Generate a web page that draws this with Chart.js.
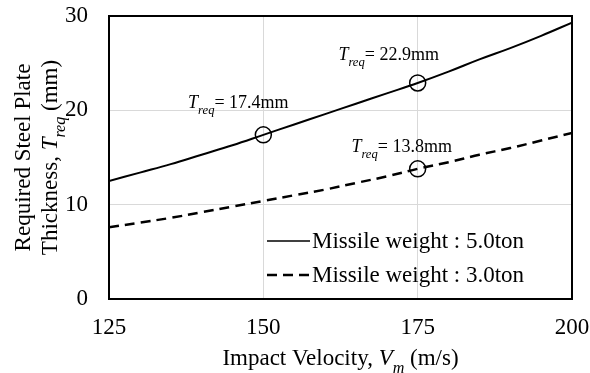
<!DOCTYPE html>
<html>
<head>
<meta charset="utf-8">
<script src="https://cdn.jsdelivr.net/npm/chart.js@4/dist/chart.umd.min.js"></script>
<style>
  html, body { margin: 0; padding: 0; background: #fff; }
  #wrap { width: 590px; height: 373px; }
</style>
</head>
<body>
<div id="wrap"><canvas id="plateChart"></canvas></div>
<script>
// impact velocity (m/s)
var velocity = [125, 130, 135, 140, 145, 150, 155, 160, 165, 170, 175, 180, 185, 190, 195, 200];
// required plate thickness (mm)
var thick5ton = [12.5, 13.4, 14.3, 15.3, 16.3, 17.4, 18.5, 19.6, 20.7, 21.8, 22.9, 24.1, 25.4, 26.6, 27.9, 29.3];
var thick3ton = [7.6, 8.1, 8.6, 9.2, 9.8, 10.4, 11.0, 11.6, 12.3, 13.0, 13.8, 14.5, 15.3, 16.0, 16.8, 17.6];
// marked design points
var markVel = [150, 175, 175];
var markThick = [17.4, 22.9, 13.8];
var markDx = [-25, -29, -16];
var markDy = [-27, -23, -17];

var seriesLabels = ["Missile weight : 5.0ton", "Missile weight : 3.0ton"];
var xTicks = [125, 150, 175, 200];
var yTicks = [0, 10, 20, 30];

var FONT = "'Liberation Serif', 'Times New Roman', serif";

function toXY(xs, ys) {
  var out = [];
  for (var i = 0; i < xs.length; i++) out.push({ x: xs[i], y: ys[i] });
  return out;
}

// text runs with italic / subscript pieces
function richWidth(ctx, parts, size) {
  var w = 0;
  parts.forEach(function(p) {
    var s = p.sub ? size * 0.7 : size;
    ctx.font = (p.italic ? "italic " : "") + s + "px " + FONT;
    w += ctx.measureText(p.t).width;
  });
  return w;
}
function drawRich(ctx, parts, x, y, size) {
  var cx = x - richWidth(ctx, parts, size) / 2;
  parts.forEach(function(p) {
    var s = p.sub ? size * 0.7 : size;
    ctx.font = (p.italic ? "italic " : "") + s + "px " + FONT;
    ctx.textAlign = "left";
    ctx.textBaseline = "alphabetic";
    ctx.fillText(p.t, cx, y + (p.sub ? size * 0.35 : 0));
    cx += ctx.measureText(p.t).width;
  });
}

// keep tick labels from pushing the plot area inwards
function noScalePadding(s) {
  s.paddingTop = 0;
  s.paddingBottom = 0;
  s.paddingLeft = 0;
  s.paddingRight = 0;
}

var extras = {
  id: "extras",
  afterDatasetsDraw: function(chart) {
    var ctx = chart.ctx, a = chart.chartArea;
    var xs = chart.scales.x, ys = chart.scales.y;
    ctx.save();
    ctx.fillStyle = "#000";

    // frame
    ctx.strokeStyle = "#000";
    ctx.lineWidth = 2;
    ctx.strokeRect(a.left, a.top, a.right - a.left, a.bottom - a.top);

    // value labels over the markers
    for (var i = 0; i < markVel.length; i++) {
      var px = xs.getPixelForValue(markVel[i]);
      var py = ys.getPixelForValue(markThick[i]);
      drawRich(ctx, [
        { t: "T", italic: true },
        { t: "req", italic: true, sub: true },
        { t: "= " + markThick[i].toFixed(1) + "mm" }
      ], px + markDx[i], py + markDy[i], 18);
    }

    // legend inside the plot
    var lx = a.right - 305;
    chart.data.datasets.forEach(function(ds, k) {
      if (!ds.label) return;
      var ly = a.bottom - 58 + k * 34;
      ctx.beginPath();
      ctx.setLineDash(ds.borderDash || []);
      ctx.lineWidth = ds.borderDash ? ds.borderWidth : 1.5;
      ctx.strokeStyle = ds.borderColor;
      ctx.moveTo(lx, ly);
      ctx.lineTo(lx + 43, ly);
      ctx.stroke();
      ctx.setLineDash([]);
      ctx.font = "23px " + FONT;
      ctx.textAlign = "left";
      ctx.textBaseline = "middle";
      ctx.fillText(ds.label, lx + 45, ly + 1);
    });

    // axis titles
    drawRich(ctx, [
      { t: "Impact Velocity, " },
      { t: "V", italic: true },
      { t: "m", italic: true, sub: true },
      { t: " (m/s)" }
    ], (a.left + a.right) / 2, 365, 23);

    ctx.save();
    ctx.translate(0, (a.top + a.bottom) / 2);
    ctx.rotate(-Math.PI / 2);
    drawRich(ctx, [{ t: "Required Steel Plate" }], 0, 30, 23);
    drawRich(ctx, [
      { t: "Thickness, " },
      { t: "T", italic: true },
      { t: "req", italic: true, sub: true },
      { t: " (mm)" }
    ], 0, 57, 23);
    ctx.restore();

    ctx.restore();
  }
};

new Chart(document.getElementById("plateChart"), {
  type: "scatter",
  data: {
    datasets: [
      {
        label: seriesLabels[0],
        data: toXY(velocity, thick5ton),
        showLine: true,
        borderColor: "#000",
        borderWidth: 2,
        pointRadius: 0,
        tension: 0.4,
        fill: false
      },
      {
        label: seriesLabels[1],
        data: toXY(velocity, thick3ton),
        showLine: true,
        borderColor: "#000",
        borderWidth: 2.5,
        borderDash: [10, 6],
        pointRadius: 0,
        tension: 0.4,
        fill: false
      },
      {
        data: toXY(markVel, markThick),
        showLine: false,
        pointStyle: "circle",
        pointRadius: 8,
        pointBorderWidth: 1.5,
        pointBorderColor: "#000",
        pointBackgroundColor: "rgba(255,255,255,0)"
      }
    ]
  },
  options: {
    responsive: true,
    maintainAspectRatio: false,
    animation: false,
    layout: { padding: { left: 0, right: 18, top: 16, bottom: 0 } },
    plugins: {
      legend: { display: false },
      tooltip: { enabled: false }
    },
    scales: {
      x: {
        type: "linear",
        min: 125,
        max: 200,
        afterBuildTicks: function(s) { s.ticks = xTicks.map(function(v) { return { value: v }; }); },
        afterFit: function(s) { s.height = 74; noScalePadding(s); },
        grid: { color: "#d9d9d9", lineWidth: 1, drawTicks: false },
        border: { display: true, color: "#000", width: 2 },
        ticks: { color: "#000", padding: 15, font: { family: FONT, size: 23 } }
      },
      y: {
        type: "linear",
        min: 0,
        max: 30,
        afterBuildTicks: function(s) { s.ticks = yTicks.map(function(v) { return { value: v }; }); },
        afterFit: function(s) { s.width = 109; noScalePadding(s); },
        grid: { color: "#d9d9d9", lineWidth: 1, drawTicks: false },
        border: { display: true, color: "#000", width: 2 },
        ticks: { color: "#000", padding: 21, font: { family: FONT, size: 23 } }
      }
    }
  },
  plugins: [extras]
});
</script>
</body>
</html>
